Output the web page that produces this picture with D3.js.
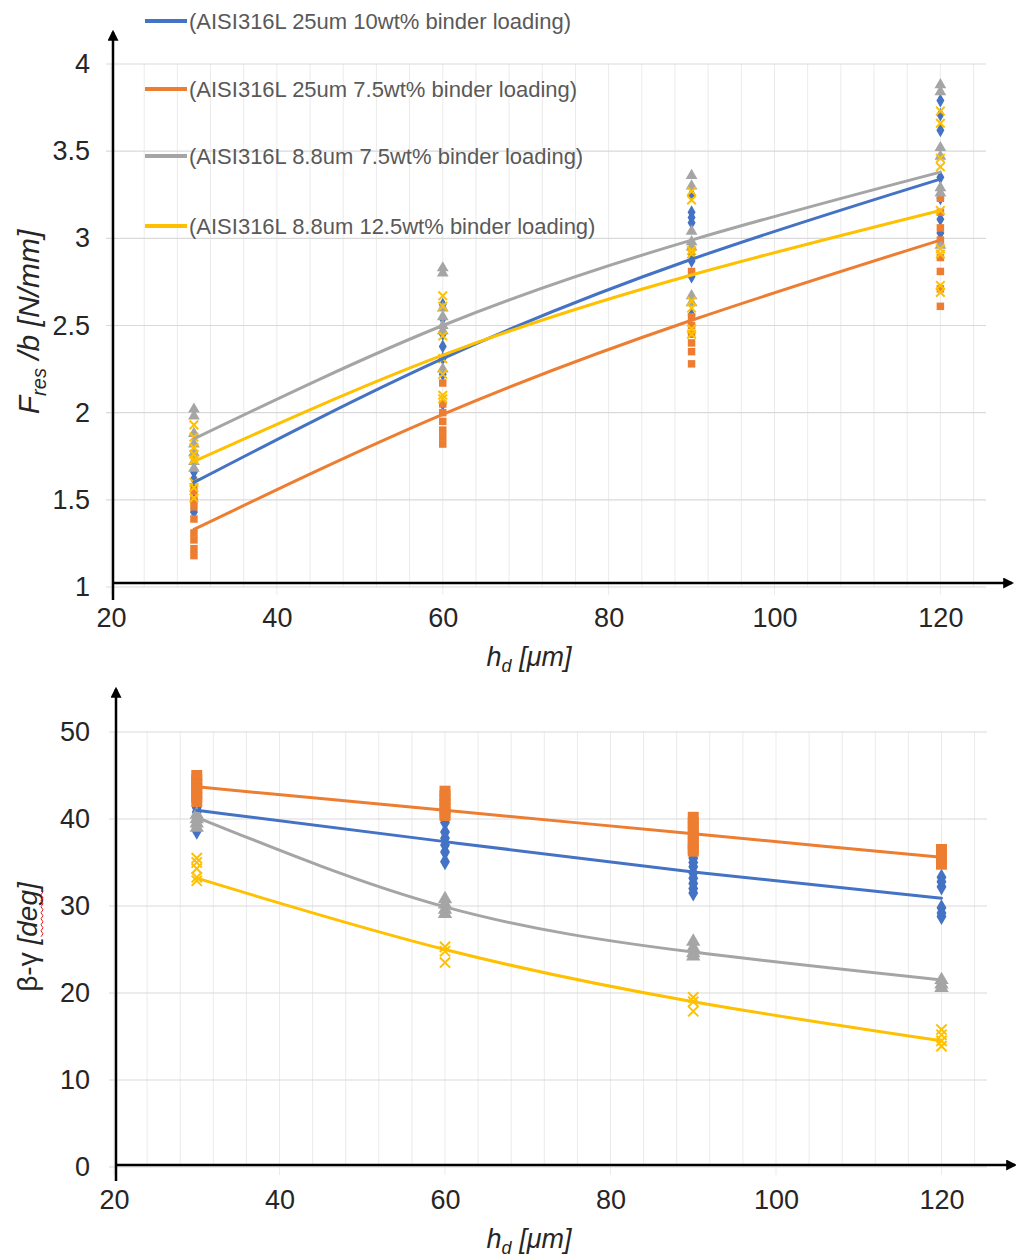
<!DOCTYPE html>
<html>
<head>
<meta charset="utf-8">
<script src="https://cdnjs.cloudflare.com/ajax/libs/d3/7.8.5/d3.min.js"></script>
<style>
  body { margin: 0; background: #fff; }
  svg { display: block; font-family: "Liberation Sans", Arial, sans-serif; }
</style>
</head>
<body>
<svg id="canvas" width="1016" height="1258"></svg>
<script>
// categories / labels
const hd = [30, 60, 90, 120]
const hdTicks = [20, 40, 60, 80, 100, 120]
const forceTicks = [1, 1.5, 2, 2.5, 3, 3.5, 4]
const angleTicks = [0, 10, 20, 30, 40, 50]
const seriesNames = [
    '(AISI316L 25um 10wt% binder loading)',
    '(AISI316L 25um 7.5wt% binder loading)',
    '(AISI316L 8.8um 7.5wt% binder loading)',
    '(AISI316L 8.8um 12.5wt% binder loading)'
]
const seriesColors = ['#4472C4', '#ED7D31', '#A5A5A5', '#FFC000']

// F_res/b [N/mm], measured points per h_d
const forceBlue = [
    [1.66, 1.62, 1.58, 1.50, 1.43],
    [2.62, 2.54, 2.45, 2.38, 2.31, 2.22, 2.05],
    [3.25, 3.15, 3.12, 3.09, 2.91, 2.87, 2.78, 2.56],
    [3.79, 3.71, 3.62, 3.35, 3.23, 3.11, 3.03]
]
const forceOrange = [
    [1.55, 1.50, 1.46, 1.39, 1.31, 1.27, 1.22, 1.18],
    [2.17, 2.05, 2.00, 1.95, 1.90, 1.86, 1.82],
    [2.81, 2.55, 2.50, 2.45, 2.40, 2.35, 2.28],
    [3.23, 3.15, 3.06, 2.99, 2.89, 2.81, 2.71, 2.61]
]
const forceGrey = [
    [2.02, 1.98, 1.88, 1.82, 1.77, 1.72, 1.68],
    [2.83, 2.80, 2.60, 2.55, 2.50, 2.47, 2.25],
    [3.36, 3.30, 3.04, 2.98, 2.95, 2.67, 2.63],
    [3.88, 3.84, 3.52, 3.47, 3.29, 3.26, 2.96]
]
const forceYellow = [
    [1.93, 1.86, 1.80, 1.76, 1.73, 1.60, 1.57, 1.51],
    [2.67, 2.61, 2.44, 2.31, 2.22, 2.10, 2.08],
    [3.27, 3.22, 2.93, 2.91, 2.64, 2.60, 2.48, 2.45],
    [3.73, 3.66, 3.46, 3.41, 3.16, 2.94, 2.91, 2.73, 2.69]
]
// trendline values read at each h_d
const forceTrendBlue = [1.60, 2.31, 2.88, 3.34]
const forceTrendOrange = [1.33, 1.99, 2.53, 2.99]
const forceTrendGrey = [1.85, 2.50, 2.99, 3.38]
const forceTrendYellow = [1.72, 2.33, 2.79, 3.16]

// beta-gamma [deg]
const angleBlue = [
    [41.3, 40.8, 40.3, 38.6],
    [39.6, 38.5, 37.8, 37.0, 36.2, 35.1],
    [35.5, 35.0, 34.5, 33.8, 33.2, 32.6, 32.0, 31.5],
    [33.3, 32.8, 32.2, 29.8, 29.2, 28.8]
]
const angleOrange = [
    [45.0, 44.5, 44.0, 43.5, 43.0, 42.5, 42.0],
    [43.2, 42.7, 42.2, 41.7, 41.2, 40.7, 40.4],
    [40.2, 39.6, 39.0, 38.4, 37.8, 37.2, 36.6, 36.3],
    [36.5, 35.9, 35.3, 34.8]
]
const angleGrey = [
    [40.5, 40.0, 39.5, 39.0],
    [30.8, 30.2, 29.6, 29.1],
    [25.9, 25.2, 24.6, 24.2],
    [21.5, 21.0, 20.6]
]
const angleYellow = [
    [35.5, 35.0, 34.3, 33.3, 32.9],
    [25.3, 24.8, 23.5],
    [19.5, 19.0, 17.9],
    [15.8, 15.2, 14.5, 13.9]
]
const angleTrendBlue = [41.0, 37.4, 33.9, 30.9]
const angleTrendOrange = [43.7, 41.0, 38.3, 35.6]
const angleTrendGrey = [40.2, 29.9, 24.7, 21.5]
const angleTrendYellow = [33.2, 25.0, 19.0, 14.5]

const symbols = [d3.symbolDiamond, d3.symbolSquare, d3.symbolTriangle, d3.symbolX]

const svg = d3.select('#canvas')

// arrow head for the hand drawn axes
svg.append('defs').append('marker')
    .attr('id', 'arrow')
    .attr('viewBox', '0 0 10 10')
    .attr('refX', 8).attr('refY', 5)
    .attr('markerWidth', 11).attr('markerHeight', 11)
    .attr('markerUnits', 'userSpaceOnUse')
    .attr('orient', 'auto')
    .append('path').attr('d', 'M0,0 L10,5 L0,10 z').attr('fill', '#000')

function drawPanel(p) {
    const x = d3.scaleLinear().domain([20, 125.5]).range(p.xRange)
    const y = d3.scaleLinear().domain(p.yDomain).range(p.yRange)
    const g = svg.append('g')

    // gridlines
    g.append('g').selectAll('line')
        .data(d3.range(20, 125, 4))
        .enter().append('line')
            .attr('x1', d => x(d)).attr('x2', d => x(d))
            .attr('y1', y(p.yDomain[1]))
            .attr('y2', d => y(p.yDomain[0]) + (d % 20 === 0 ? 8 : 0))
            .attr('stroke', '#ebebeb').attr('stroke-width', 1)
    g.append('g').selectAll('line')
        .data(p.yTicks)
        .enter().append('line')
            .attr('x1', p.xRange[0] - 5).attr('x2', x(125.5))
            .attr('y1', d => y(d)).attr('y2', d => y(d))
            .attr('stroke', '#d9d9d9').attr('stroke-width', 1.2)

    // tick labels
    const xAxis = g.append('g')
        .attr('transform', `translate(0,${y(p.yDomain[0])})`)
        .call(d3.axisBottom(x).tickValues(hdTicks).tickSize(0).tickPadding(p.xLabelPad).tickFormat(d => d))
    const yAxis = g.append('g')
        .attr('transform', `translate(${p.labelRight},0)`)
        .call(d3.axisLeft(y).tickValues(p.yTicks).tickSize(0).tickPadding(0).tickFormat(d => d))
    ;[xAxis, yAxis].forEach(a => {
        a.select('.domain').remove()
        a.selectAll('text').attr('font-size', 27).attr('fill', '#262626')
            .attr('font-family', '"Liberation Sans", Arial, sans-serif')
    })

    // markers
    p.series.forEach((s, i) => {
        const sym = d3.symbol().type(symbols[i]).size(p.sizes[i])
        const pts = []
        s.forEach((vals, k) => vals.forEach(v => pts.push([hd[k], v])))
        g.append('g').selectAll('path')
            .data(pts)
            .enter().append('path')
                .attr('d', sym)
                .attr('transform', d => `translate(${x(d[0])},${y(d[1])})`)
                .attr('fill', i === 3 ? 'none' : seriesColors[i])
                .attr('stroke', i === 3 ? seriesColors[i] : 'none')
                .attr('stroke-width', 2)
    })

    // trendlines
    const line = d3.line().x((d, k) => x(hd[k])).y(d => y(d)).curve(d3.curveNatural)
    p.trends.forEach((t, i) => {
        g.append('path')
            .attr('d', line(t))
            .attr('fill', 'none')
            .attr('stroke', seriesColors[i])
            .attr('stroke-width', 3)
            .attr('stroke-linecap', 'round')
    })

    // hand drawn axes with arrows
    g.append('line')
        .attr('x1', p.axisX).attr('x2', p.axisX)
        .attr('y1', p.yAxisBottom).attr('y2', p.yAxisTop)
        .attr('stroke', '#000').attr('stroke-width', 2.5)
        .attr('marker-end', 'url(#arrow)')
    g.append('line')
        .attr('x1', p.axisX).attr('x2', p.xAxisEnd)
        .attr('y1', p.axisY).attr('y2', p.axisY)
        .attr('stroke', '#000').attr('stroke-width', 2.5)
        .attr('marker-end', 'url(#arrow)')

    // x title
    const xt = g.append('text')
        .attr('x', 529).attr('y', p.xTitleY)
        .attr('text-anchor', 'middle')
        .attr('font-size', 27).attr('font-style', 'italic').attr('fill', '#262626')
    xt.append('tspan').text('h')
    xt.append('tspan').attr('font-size', 18).attr('dy', 6).text('d')
    xt.append('tspan').attr('dy', -6).text(' [μm]')

    return { x, y, g }
}

// top panel
drawPanel({
    series: [forceBlue, forceOrange, forceGrey, forceYellow],
    trends: [forceTrendBlue, forceTrendOrange, forceTrendGrey, forceTrendYellow],
    sizes: [55, 56, 60, 50],
    yDomain: [1, 4], yTicks: forceTicks, yRange: [587, 64],
    xRange: [111, 986], xLabelPad: 21, labelRight: 90,
    axisX: 113, axisY: 583, yAxisTop: 32, yAxisBottom: 600, xAxisEnd: 1012,
    xTitleY: 666
})

// y title of top panel
const ft = svg.append('text')
    .attr('transform', 'translate(39,322) rotate(-90)')
    .attr('text-anchor', 'middle')
    .attr('font-size', 30).attr('font-style', 'italic').attr('fill', '#262626')
ft.append('tspan').text('F')
ft.append('tspan').attr('font-size', 20).attr('dy', 7).text('res')
ft.append('tspan').attr('dy', -7).text(' /b [N/mm]')

// legend
const legend = svg.append('g').selectAll('g')
    .data(seriesNames)
    .enter().append('g')
        .attr('transform', (d, i) => `translate(0,${[21, 89, 156, 226][i]})`)
legend.append('line')
    .attr('x1', 145).attr('x2', 187)
    .attr('stroke', (d, i) => seriesColors[i])
    .attr('stroke-width', 4)
legend.append('text')
    .attr('x', 189).attr('dy', '0.35em')
    .attr('font-size', 22).attr('fill', '#595959')
    .text(d => d)

// bottom panel
drawPanel({
    series: [angleBlue, angleOrange, angleGrey, angleYellow],
    trends: [angleTrendBlue, angleTrendOrange, angleTrendGrey, angleTrendYellow],
    sizes: [85, 120, 90, 70],
    yDomain: [0, 50], yTicks: angleTicks, yRange: [1167, 732],
    xRange: [114, 987], xLabelPad: 23, labelRight: 90,
    axisX: 116, axisY: 1165, yAxisTop: 689, yAxisBottom: 1181, xAxisEnd: 1015,
    xTitleY: 1248
})

// y title of bottom panel, with the spell-check squiggle under "deg"
const bg = svg.append('g').attr('transform', 'translate(37,937) rotate(-90)')
const bt = bg.append('text')
    .attr('text-anchor', 'middle')
    .attr('font-size', 28).attr('fill', '#262626')
bt.append('tspan').text('β-γ ')
bt.append('tspan').attr('font-style', 'italic').text('[deg]')
const n = bt.text().length
const s0 = bt.node().getStartPositionOfChar(n - 4).x
const s1 = bt.node().getEndPositionOfChar(n - 2).x
const zig = d3.range(s0, s1, 3).map((v, k) => [v, 4 + (k % 2 ? 2 : 0)])
bg.append('path')
    .attr('d', d3.line()(zig))
    .attr('fill', 'none').attr('stroke', '#e02020').attr('stroke-width', 1)
</script>
</body>
</html>
